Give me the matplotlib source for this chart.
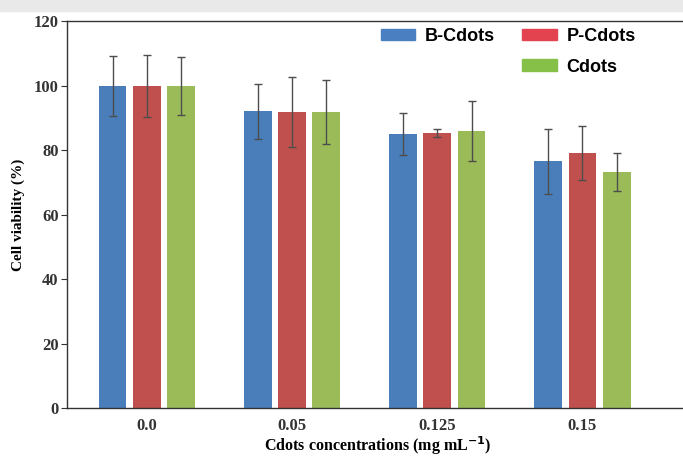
import numpy as np
from matplotlib import pyplot as plt
from matplotlib.patches import Patch, Rectangle

# data
concs = ['0.0', '0.05', '0.125', '0.15']
b_cdots = [100, 92, 85, 76.5]
b_err = [9.3, 8.5, 6.5, 10]
p_cdots = [100, 91.8, 85.2, 79]
p_err = [9.6, 10.8, 1.2, 8.4]
cdots = [100, 91.8, 85.8, 73.2]
c_err = [9.0, 9.8, 9.3, 5.8]

blue = '#4a7ebb'
red = '#c0504d'
green = '#9bbb59'

fig = plt.figure(figsize=(6.83, 4.57), dpi=100)
# faint grey band at the very top, like the screenshot
fig.patches.append(Rectangle((0, 0.975), 1, 0.025, transform=fig.transFigure,
                             color='#e9e9e9', zorder=0))
ax = fig.add_axes([0.098, 0.107, 0.91, 0.847])

x = np.arange(len(concs))
w = 0.19
step = 0.236
ekw = dict(ecolor='#4d4d4d', elinewidth=1.0, capsize=2.7, capthick=1.0)
ax.bar(x - step, b_cdots, w, yerr=b_err, color=blue, error_kw=ekw)
ax.bar(x, p_cdots, w, yerr=p_err, color=red, error_kw=ekw)
ax.bar(x + step, cdots, w, yerr=c_err, color=green, error_kw=ekw)

ax.set_xlim(-0.55, 3.73)
ax.set_ylim(0, 120)
ax.set_yticks(range(0, 121, 20))
ax.set_xticks(x)
ax.set_xticklabels(concs)

for s in ['left', 'bottom', 'top']:
    ax.spines[s].set_color('#333333')
    ax.spines[s].set_linewidth(1.0)
ax.spines['right'].set_visible(False)

ax.tick_params(axis='x', length=0, pad=7)
ax.tick_params(axis='y', length=4, direction='out', pad=2, color='#333333')
for lab in ax.get_xticklabels() + ax.get_yticklabels():
    lab.set_fontfamily('Liberation Serif')
    lab.set_fontweight('bold')
    lab.set_fontsize(12)
    lab.set_color('#333333')

ax.set_ylabel('Cell viability (%)', family='Liberation Serif', weight='bold',
              fontsize=11, labelpad=6)
ax.set_xlabel('Cdots concentrations (mg mL$^{\\mathbf{-1}}$)', family='Liberation Serif',
              weight='bold', fontsize=11.5, labelpad=0)

handles = [Patch(color='#4a7fc1'), Patch(color='none'), Patch(color='#e2434f'), Patch(color='#86c048')]
labels = ['B-Cdots', '', 'P-Cdots', 'Cdots']
ax.legend(handles, labels, ncol=2, frameon=False, loc='upper left',
          bbox_to_anchor=(381 / 683, 1 - 28 / 457), bbox_transform=fig.transFigure,
          borderpad=0, borderaxespad=0,
          handlelength=1.9, handleheight=0.6,
          columnspacing=1.5, labelspacing=0.75, handletextpad=0.55,
          prop={'family': 'Liberation Sans', 'weight': 'bold', 'size': 13})

fig.savefig('out.png', dpi=100)
